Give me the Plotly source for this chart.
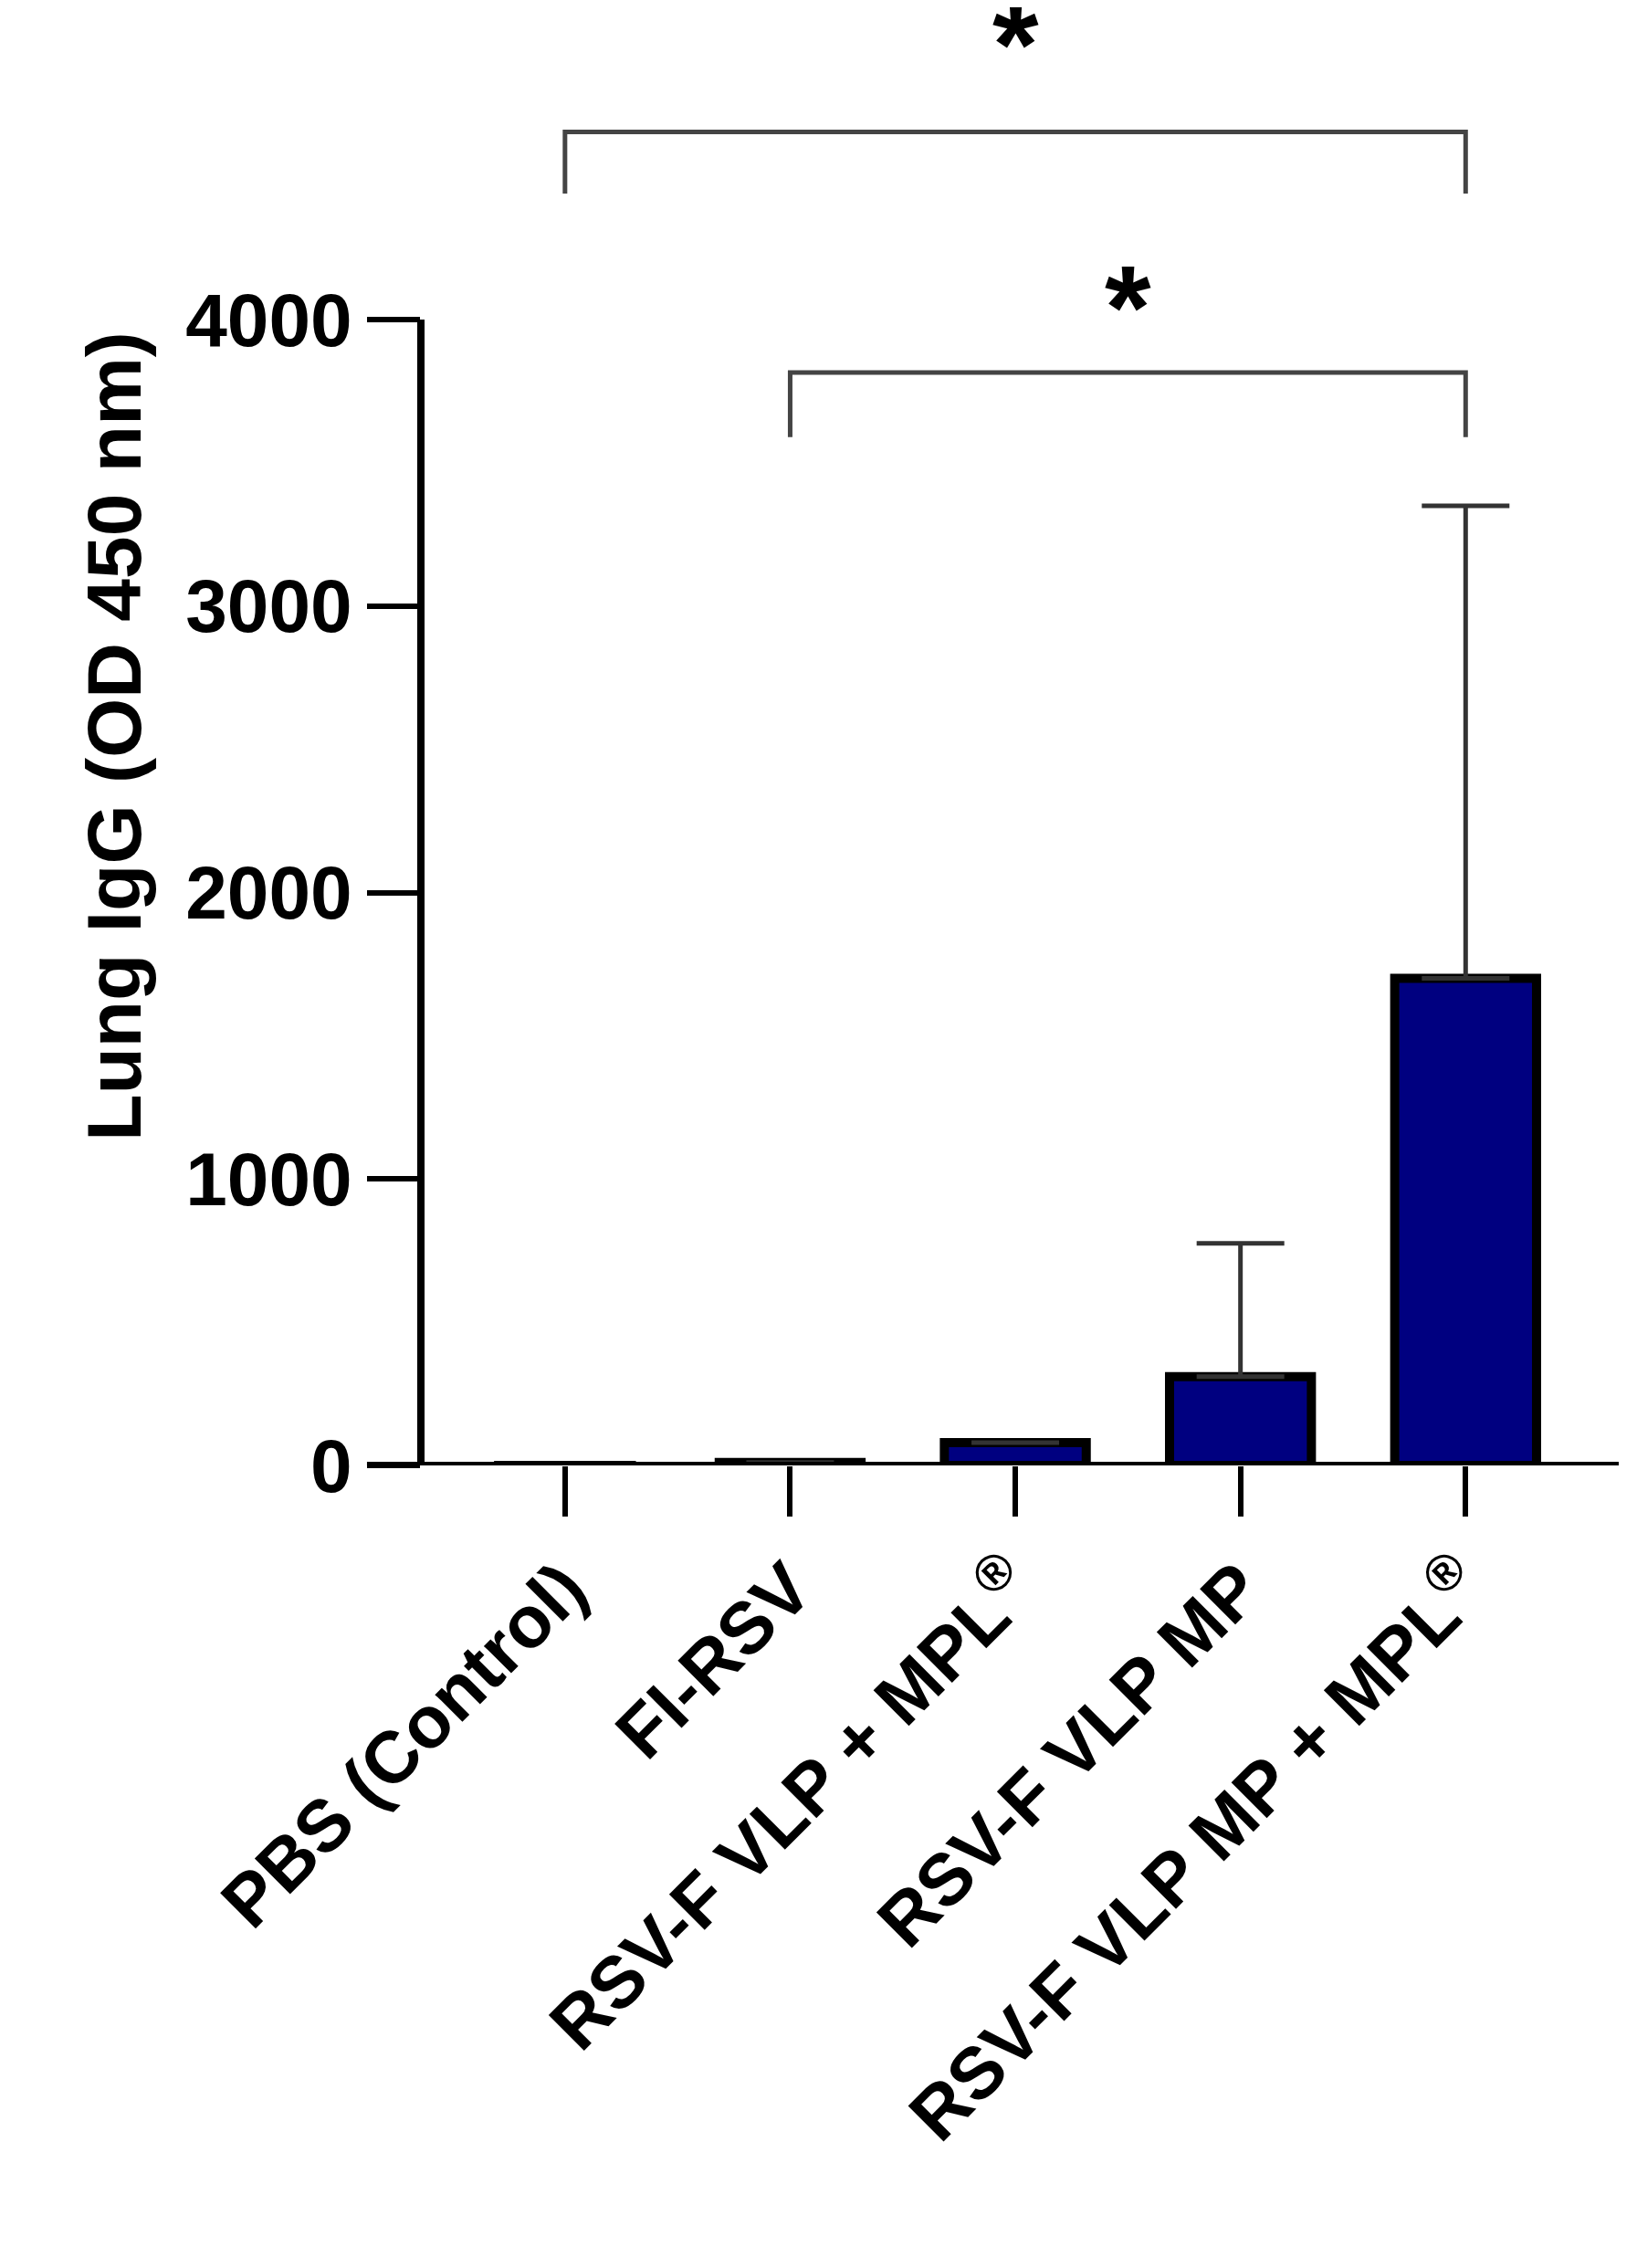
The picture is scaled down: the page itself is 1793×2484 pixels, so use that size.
import plotly.graph_objects as go

groups = ["PBS (Control)", "FI-RSV", "RSV-F VLP + MPL<sup>®</sup>",
          "RSV-F VLP MP", "RSV-F VLP MP + MPL<sup>®</sup>"]
means = [0, 10, 80, 310, 1700]
sd_up = [0, 0, 0, 465, 1650]
tick_vals = [0, 1000, 2000, 3000, 4000]

# significance brackets: (left group, right group, bar level, drop level, star level)
brackets = [(0, 4, 4655, 4440, 4960), (1, 4, 3815, 3590, 4040)]

fig = go.Figure()
fig.add_trace(go.Bar(
    x=list(range(len(groups))), y=means, width=0.63,
    marker=dict(color="#000080", line=dict(color="black", width=10)),
    error_y=dict(type="data", array=sd_up, symmetric=False, arrayminus=[0]*5,
                 color="#333333", thickness=5, width=48, visible=True),
))

for a, b, top, drop, star in brackets:
    fig.add_shape(type="path", xref="x", yref="y",
                  path=f"M {a},{drop} L {a},{top} L {b},{top} L {b},{drop}",
                  line=dict(color="#444444", width=5))
    fig.add_annotation(x=(a + b) / 2, y=star, text="<b>*</b>", showarrow=False,
                       xref="x", yref="y", font=dict(size=130, color="black",
                                                      family="Liberation Sans"))

# axis lines drawn by hand: y only up to 4000, x extends left of the y axis
fig.add_shape(type="line", xref="paper", yref="y", x0=0, x1=0, y0=0, y1=4000,
              line=dict(color="black", width=8))
fig.add_shape(type="line", xref="paper", yref="y", x0=-0.045, x1=1, y0=0, y1=0,
              line=dict(color="black", width=8))

fig.update_layout(
    width=1793, height=2484, plot_bgcolor="white", paper_bgcolor="white",
    showlegend=False,
    margin=dict(l=453, r=28, t=0, b=887),
    font=dict(family="Liberation Sans", color="black"),
)
fig.update_xaxes(
    range=[-0.64, 4.68], tickvals=list(range(5)), ticktext=[f"<b>{g}</b>" for g in groups],
    tickangle=-45, tickfont=dict(size=80), ticks="outside", ticklen=55, tickwidth=6,
    tickcolor="black", showline=False, showgrid=False, zeroline=False,
)
fig.update_yaxes(
    range=[0, 5090], tickvals=tick_vals, ticktext=[f"<b>{v}</b>" for v in tick_vals],
    tickfont=dict(size=82), ticks="outside", ticklen=58, tickwidth=6, tickcolor="black",
    showline=False, showgrid=False, zeroline=False,
    title=dict(text="<b>Lung IgG (OD 450 nm)</b>", font=dict(size=84), standoff=20),
)

fig.write_html("out.html")
